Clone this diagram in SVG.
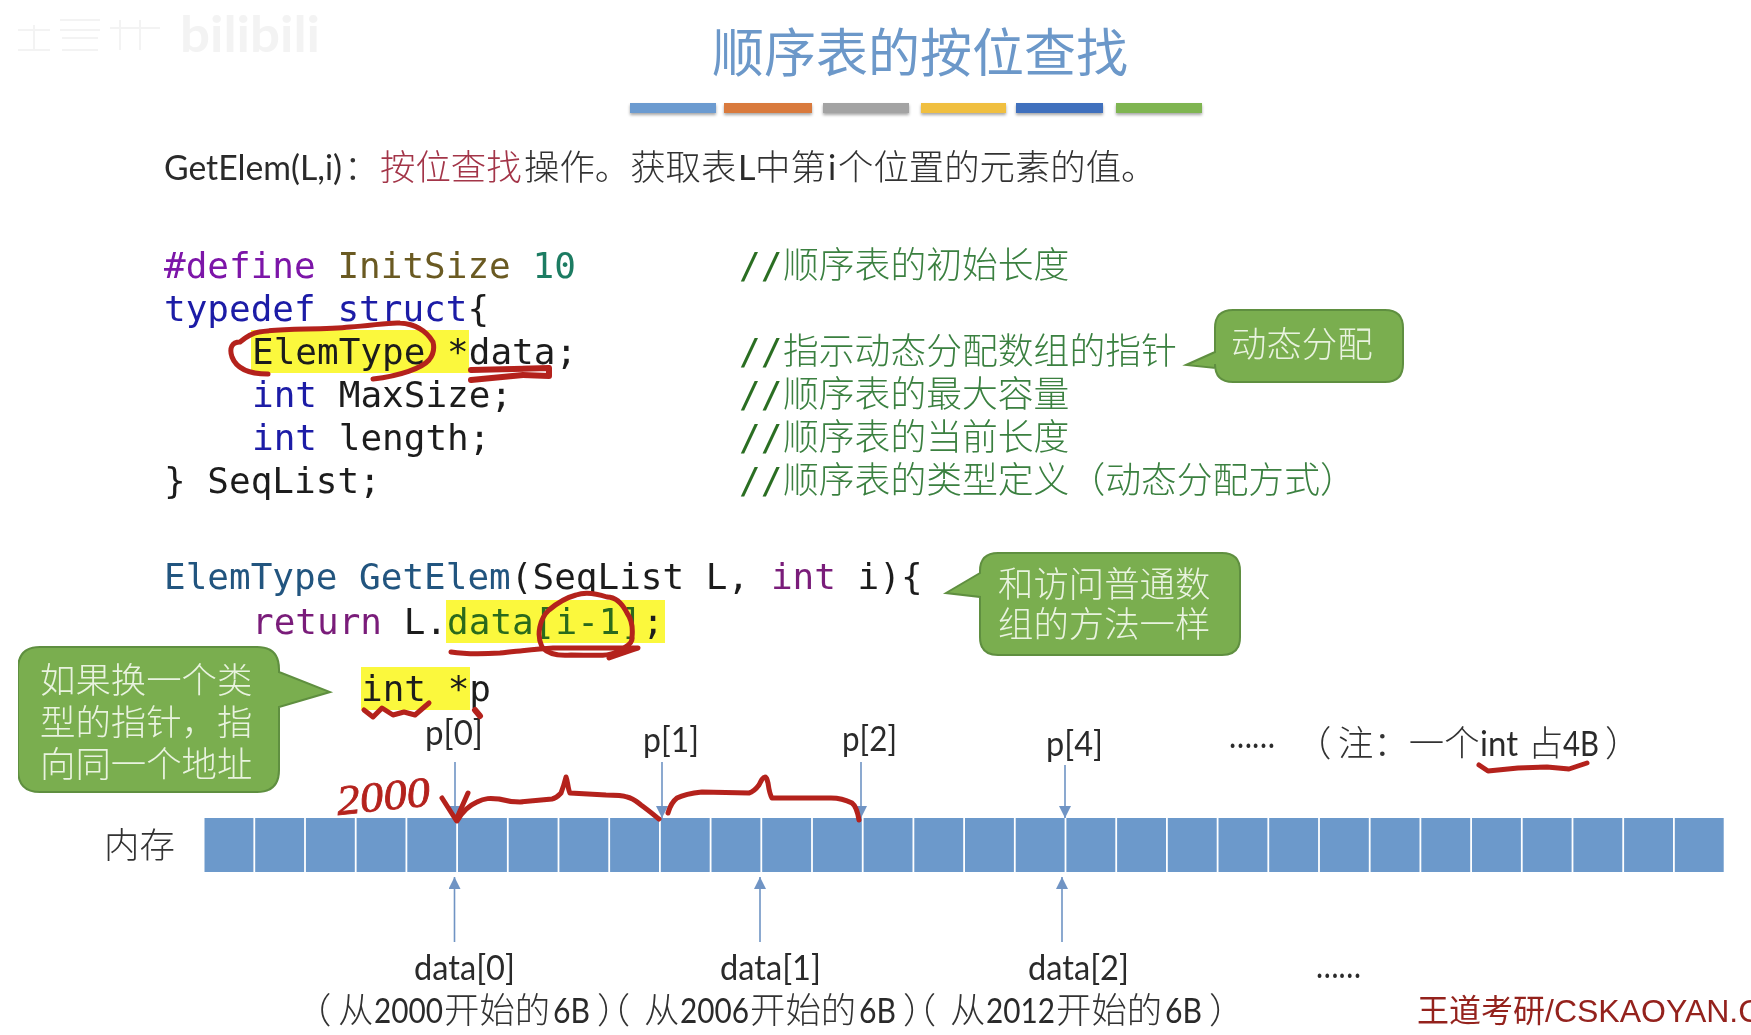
<svg xmlns="http://www.w3.org/2000/svg" width="1751" height="1035" viewBox="0 0 1751 1035">
<style>
.code{font-family:"DejaVu Sans Mono","Noto Sans CJK SC",monospace;font-size:36px}
.cm{font-family:"Noto Sans CJK SC",sans-serif;font-size:35.8px;font-weight:300;fill:#3a8040}
.sl{font-family:"DejaVu Sans Mono",monospace;font-size:36px;fill:#2a6e22}
.ui{font-family:"Lato","Noto Sans CJK SC",sans-serif;font-size:34px;fill:#2b2b2b}
.cj{font-family:"Noto Sans CJK SC",sans-serif;font-size:35.4px;font-weight:300;fill:#333}
.pp{letter-spacing:-20px}
.call{fill:#7aae50;stroke:#5f8f3f;stroke-width:2}
.ct{font-family:"Noto Sans CJK SC",sans-serif;font-size:35.4px;font-weight:300;fill:#e9f3df}
.cell{fill:#6c99cb}
.bar{filter:url(#sh)}
.hl{fill:#fbf83c}
.ink{fill:none;stroke:#b4211c;stroke-width:5;stroke-linecap:round;stroke-linejoin:round}
.arr{stroke:#6f94c4;stroke-width:1.6;fill:none;marker-end:url(#ah)}
.k1{fill:#1a1aa6}.k2{fill:#7a1f7a}.ty{fill:#24557f}.blk{fill:#1c1c1c}
.wm{fill:none;stroke:#f3f3f3;stroke-width:2}
</style>
<defs>
<marker id="ah" markerUnits="userSpaceOnUse" markerWidth="14" markerHeight="14" refX="12" refY="6" orient="auto"><path d="M0 0L12 6L0 12Z" fill="#6f94c4"/></marker>
<filter id="sh" x="-5%" y="-30%" width="110%" height="200%"><feDropShadow dx="0" dy="2" stdDeviation="1.5" flood-color="#000" flood-opacity=".35"/></filter>
<filter id="soft" x="0" y="0" width="100%" height="100%"><feGaussianBlur stdDeviation="0.4"/></filter>
</defs>
<rect width="1751" height="1035" fill="#fff"/>
<g filter="url(#soft)">

<g id="watermark">
<text x="180" y="52" font-family="Lato,sans-serif" font-weight="700" font-size="50" fill="#f3f3f3" textLength="140" lengthAdjust="spacingAndGlyphs">bilibili</text>
<path class="wm" d="M18 30H50M18 50H50M34 25V50M60 20H100M60 30H100M62 38H98M62 50H98M110 28H160M120 20V50M140 20V50"/>
</g>

<g id="title">
<text x="712" y="72" font-family="'Noto Sans CJK SC',sans-serif" font-size="52" fill="#6c98c9" font-weight="400">顺序表的按位查找</text>
<rect class="bar" x="630" y="103" width="86" height="10" fill="#6c9bd0"/>
<rect class="bar" x="724" y="103" width="88" height="10" fill="#d97a3c"/>
<rect class="bar" x="823" y="103" width="86" height="10" fill="#a3a3a3"/>
<rect class="bar" x="921" y="103" width="85" height="10" fill="#f0bf3f"/>
<rect class="bar" x="1016" y="103" width="87" height="10" fill="#3f6fbd"/>
<rect class="bar" x="1116" y="103" width="86" height="10" fill="#7fb551"/>
</g>

<g id="desc">
<text class="ui" x="164" y="180" textLength="178" lengthAdjust="spacingAndGlyphs">GetElem(L,i)</text>
<text class="cj" x="344" y="180">：</text>
<text class="cj" x="380" y="180" style="fill:#a33548">按位查找</text>
<text class="cj" x="524" y="180">操作。获取表</text>
<text class="ui" x="738" y="180">L</text>
<text class="cj" x="755" y="180">中第</text>
<text class="ui" x="828" y="180">i</text>
<text class="cj" x="838" y="180">个位置的元素的值。</text>
</g>

<g id="highlights">
<rect class="hl" x="251" y="330" width="218" height="43"/>
<rect class="hl" x="446" y="600" width="219" height="43"/>
<rect class="hl" x="361" y="667" width="109" height="43"/>
</g>

<g id="struct-code">
<text class="code" x="164" y="278"><tspan fill="#7c12a8">#define</tspan> <tspan fill="#6b5a22">InitSize</tspan> <tspan fill="#1f7c62">10</tspan></text>
<text class="code" x="164" y="321"><tspan class="k1">typedef</tspan> <tspan class="k1">struct</tspan><tspan class="blk">{</tspan></text>
<text class="code blk" x="252" y="364">ElemType *data;</text>
<text class="code" x="252" y="407"><tspan class="k1">int</tspan> <tspan class="blk">MaxSize;</tspan></text>
<text class="code" x="252" y="450"><tspan class="k1">int</tspan> <tspan class="blk">length;</tspan></text>
<text class="code blk" x="164" y="493">} SeqList;</text>
</g>

<g id="comments">
<text class="sl" x="739" y="278">//</text><text class="cm" x="783" y="278">顺序表的初始长度</text>
<text class="sl" x="739" y="364">//</text><text class="cm" x="783" y="364">指示动态分配数组的指针</text>
<text class="sl" x="739" y="407">//</text><text class="cm" x="783" y="407">顺序表的最大容量</text>
<text class="sl" x="739" y="450">//</text><text class="cm" x="783" y="450">顺序表的当前长度</text>
<text class="sl" x="739" y="493">//</text><text class="cm" x="783" y="493">顺序表的类型定义（动态分配方式）</text>
</g>

<g id="getelem-code">
<text class="code" x="164" y="589"><tspan class="ty">ElemType GetElem</tspan><tspan class="blk">(SeqList L, </tspan><tspan class="k2">int</tspan><tspan class="blk"> i){</tspan></text>
<text class="code" x="252" y="634"><tspan class="k2">return</tspan> <tspan class="blk">L.</tspan><tspan fill="#2c6a1c">data[i-1]</tspan><tspan class="blk">;</tspan></text>
<text class="code blk" x="361" y="701">int *p</text>
</g>

<g id="callout-dynamic">
<path class="call" d="M1233 310H1385Q1403 310 1403 328V364Q1403 382 1385 382H1233Q1215 382 1215 364V368L1186 365L1215 352V328Q1215 310 1233 310Z"/>
<text class="ct" x="1231" y="357">动态分配</text>
</g>
<g id="callout-same">
<path class="call" d="M998 553H1222Q1240 553 1240 571V637Q1240 655 1222 655H998Q980 655 980 637V597L946 593L980 573V571Q980 553 998 553Z"/>
<text class="ct" x="998" y="597">和访问普通数</text>
<text class="ct" x="998" y="637">组的方法一样</text>
</g>
<g id="callout-pointer">
<path class="call" d="M40 647H257Q279 647 279 669V672L330 692L279 707V770Q279 792 257 792H40Q18 792 18 770V669Q18 647 40 647Z"/>
<text class="ct" x="40" y="693">如果换一个类</text>
<text class="ct" x="40" y="735">型的指针，指</text>
<text class="ct" x="40" y="777">向同一个地址</text>
</g>

<g id="memory">
<text class="cj" x="104" y="858">内存</text>
<g id="memory-cells">
<rect class="cell" x="204.5" y="818" width="48.9" height="54"/><rect class="cell" x="255.2" y="818" width="48.9" height="54"/><rect class="cell" x="305.9" y="818" width="48.9" height="54"/><rect class="cell" x="356.6" y="818" width="48.9" height="54"/><rect class="cell" x="407.3" y="818" width="48.9" height="54"/><rect class="cell" x="458" y="818" width="48.9" height="54"/><rect class="cell" x="508.7" y="818" width="48.9" height="54"/><rect class="cell" x="559.4" y="818" width="48.9" height="54"/><rect class="cell" x="610.1" y="818" width="48.9" height="54"/><rect class="cell" x="660.8" y="818" width="48.9" height="54"/><rect class="cell" x="711.5" y="818" width="48.9" height="54"/><rect class="cell" x="762.2" y="818" width="48.9" height="54"/><rect class="cell" x="812.9" y="818" width="48.9" height="54"/><rect class="cell" x="863.6" y="818" width="48.9" height="54"/><rect class="cell" x="914.3" y="818" width="48.9" height="54"/><rect class="cell" x="965" y="818" width="48.9" height="54"/><rect class="cell" x="1015.7" y="818" width="48.9" height="54"/><rect class="cell" x="1066.4" y="818" width="48.9" height="54"/><rect class="cell" x="1117.1" y="818" width="48.9" height="54"/><rect class="cell" x="1167.8" y="818" width="48.9" height="54"/><rect class="cell" x="1218.5" y="818" width="48.9" height="54"/><rect class="cell" x="1269.2" y="818" width="48.9" height="54"/><rect class="cell" x="1319.9" y="818" width="48.9" height="54"/><rect class="cell" x="1370.6" y="818" width="48.9" height="54"/><rect class="cell" x="1421.3" y="818" width="48.9" height="54"/><rect class="cell" x="1472" y="818" width="48.9" height="54"/><rect class="cell" x="1522.7" y="818" width="48.9" height="54"/><rect class="cell" x="1573.4" y="818" width="48.9" height="54"/><rect class="cell" x="1624.1" y="818" width="48.9" height="54"/><rect class="cell" x="1674.8" y="818" width="48.9" height="54"/>
</g>
</g>

<g id="connectors">
<path class="arr" d="M455 762V818"/>
<path class="arr" d="M662 762V818"/>
<path class="arr" d="M861 762V818"/>
<path class="arr" d="M1065 765V818"/>
<path class="arr" d="M454.5 942V877"/>
<path class="arr" d="M760 942V877"/>
<path class="arr" d="M1062 942V877"/>
</g>

<g id="pointer-labels">
<text class="ui" x="425" y="745" textLength="58" lengthAdjust="spacingAndGlyphs">p[0]</text>
<text class="ui" x="643" y="752" textLength="56" lengthAdjust="spacingAndGlyphs">p[1]</text>
<text class="ui" x="842" y="751" textLength="55" lengthAdjust="spacingAndGlyphs">p[2]</text>
<text class="ui" x="1046" y="756" textLength="57" lengthAdjust="spacingAndGlyphs">p[4]</text>
<text class="ui" x="1229" y="748" textLength="46" lengthAdjust="spacingAndGlyphs">……</text>
<text class="cj" x="1296" y="756">（</text>
<text class="cj" x="1338" y="756">注：一个</text>
<text class="ui" x="1480" y="756" textLength="38" lengthAdjust="spacingAndGlyphs">int</text>
<text class="cj" x="1528" y="756">占</text>
<text class="ui" x="1563" y="756" textLength="36" lengthAdjust="spacingAndGlyphs">4B</text>
<text class="cj" x="1605" y="756">）</text>
</g>

<g id="data-labels">
<text class="ui" x="414" y="980" textLength="101" lengthAdjust="spacingAndGlyphs">data[0]</text>
<text class="ui" x="720" y="980" textLength="101" lengthAdjust="spacingAndGlyphs">data[1]</text>
<text class="ui" x="1028" y="980" textLength="101" lengthAdjust="spacingAndGlyphs">data[2]</text>
<text class="ui" x="1316" y="978" textLength="45" lengthAdjust="spacingAndGlyphs">……</text>
<text class="cj" x="296" y="1023">（</text><text class="cj" x="338" y="1023">从</text><text class="ui" x="374" y="1023" textLength="69" lengthAdjust="spacingAndGlyphs">2000</text><text class="cj" x="444" y="1023">开始的</text><text class="ui" x="553" y="1023" textLength="37" lengthAdjust="spacingAndGlyphs">6B</text>
<text class="cj pp" x="597" y="1023">）（</text><text class="cj" x="644" y="1023">从</text><text class="ui" x="680" y="1023" textLength="69" lengthAdjust="spacingAndGlyphs">2006</text><text class="cj" x="750" y="1023">开始的</text><text class="ui" x="859" y="1023" textLength="37" lengthAdjust="spacingAndGlyphs">6B</text>
<text class="cj pp" x="903" y="1023">）（</text><text class="cj" x="950" y="1023">从</text><text class="ui" x="986" y="1023" textLength="69" lengthAdjust="spacingAndGlyphs">2012</text><text class="cj" x="1056" y="1023">开始的</text><text class="ui" x="1165" y="1023" textLength="37" lengthAdjust="spacingAndGlyphs">6B</text><text class="cj" x="1209" y="1023">）</text>
</g>

<g id="brand">
<text x="1417" y="1022" font-family="'Liberation Sans','Noto Sans CJK SC',sans-serif" font-size="32" fill="#94231f">王道考研/CSKAOYAN.C</text>
</g>

<g id="annotations">
<path class="ink" d="M268 374C252 374 237 370 232 357C229 348 232 342 240 342C246 337 252 333 259 332C280 328 320 330 350 327C370 326 390 322 400 323C415 324 426 330 433 342C435 350 433 355 429 360C422 368 400 376 373 379"/>
<path class="ink" style="stroke-width:6" d="M471 370L549 368L549 376L523 375L471 380"/>
<path class="ink" d="M549 610C540 618 536 635 542 647C549 655 560 656 571 655C590 655 608 657 616 652C628 647 633 642 632 637C633 628 632 620 627 613C622 603 615 597 607 597C595 593 584 592 576 595C565 598 556 604 549 610Z"/>
<path class="ink" d="M451 652C470 655 485 654 500 653C520 651 535 649 553 648L638 648C628 651 620 654 609 658"/>
<path class="ink" d="M364 710L373 717L382 708L393 715L404 712L415 715L429 703"/>
<path class="ink" style="stroke-width:6" d="M475 710L480 716"/>
<path class="ink" d="M442 798L456 820L468 793"/>
<path class="ink" d="M457 821C462 812 468 806 477 802C485 798 490 798 499 799C510 802 515 802 520 802L552 799C557 798 559 795 561 793C563 788 565 781 566 777C568 782 568 790 570 793L606 795C615 795 622 795 627 797C633 798 637 802 641 805C648 810 654 815 659 819"/>
<path class="ink" d="M668 813C670 806 673 801 677 798C685 794 693 793 702 792L749 793C753 792 756 789 759 785C761 781 763 777 765 777C767 777 767 780 768 783C769 790 770 795 772 798L831 798C840 798 846 800 852 803C856 806 858 814 859 820"/>
<path class="ink" d="M1479 765L1488 771L1518 768L1547 767L1569 769L1587 763"/>
<text x="338" y="815" font-family="'Liberation Serif',serif" font-style="italic" font-size="42" fill="#b4211c" stroke="#b4211c" stroke-width=".8" textLength="94" lengthAdjust="spacingAndGlyphs" transform="rotate(-6 338 815)">2000</text>
</g>
</g>
</svg>
